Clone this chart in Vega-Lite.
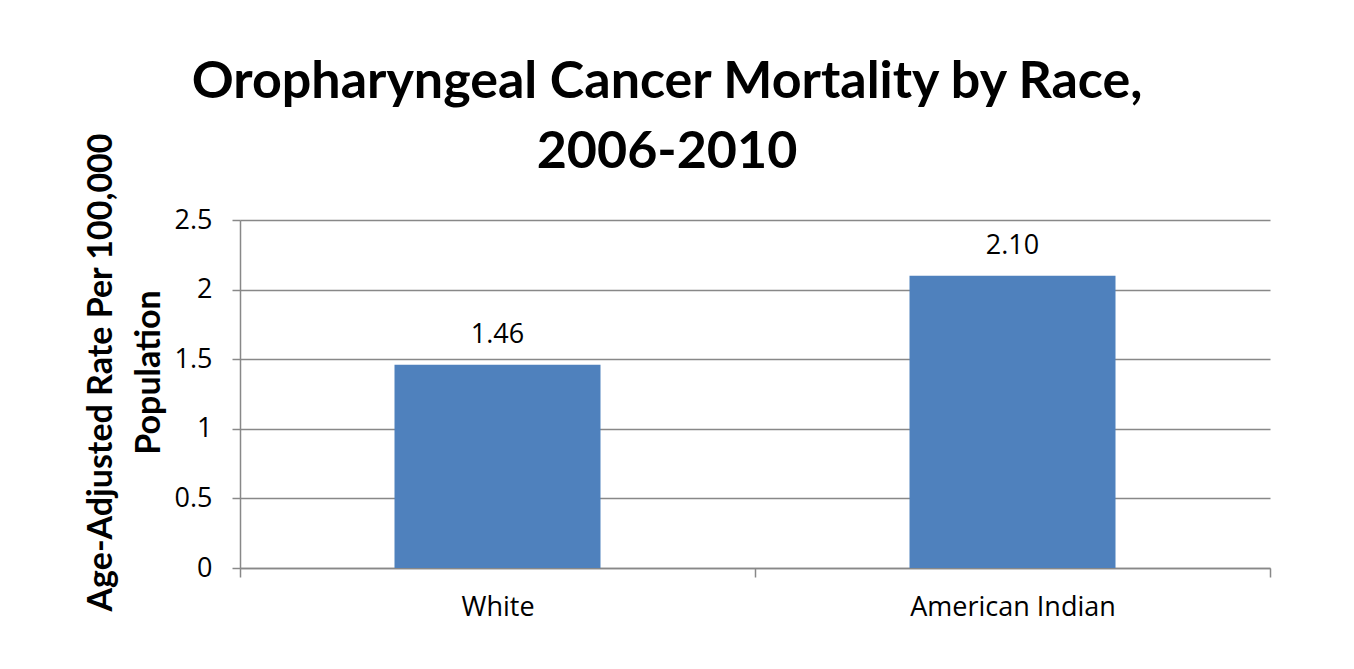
{
  "$schema": "https://vega.github.io/schema/vega-lite/v6.json",
  "autosize": {"type": "none"},
  "width": 1030,
  "height": 348,
  "padding": {"left": 240, "top": 220, "right": 84, "bottom": 101},
  "background": "white",
  "title": {
    "text": ["Oropharyngeal Cancer Mortality by Race,", "2006-2010"],
    "font": "Lato",
    "fontSize": 52,
    "fontWeight": "bold",
    "color": "black",
    "lineHeight": 70,
    "anchor": "middle",
    "dx": -88,
    "offset": -46
  },
  "data": {
    "values": [
      {"race": "White", "rate": 1.46},
      {"race": "American Indian", "rate": 2.10}
    ]
  },
  "config": {
    "view": {"stroke": null},
    "axis": {
      "labelFont": "Open Sans",
      "titleFont": "Lato",
      "labelColor": "black",
      "titleColor": "black",
      "domainColor": "#888888",
      "tickColor": "#888888",
      "gridColor": "#888888",
      "domainWidth": 1.5,
      "tickWidth": 1.5,
      "gridWidth": 1.5,
      "labelLimit": 400
    }
  },
  "encoding": {
    "x": {
      "field": "race",
      "type": "nominal",
      "sort": null,
      "scale": {"paddingInner": 0, "paddingOuter": 0},
      "axis": {
        "title": null,
        "labelAngle": 0,
        "labelFontSize": 27,
        "labelPadding": 17,
        "tickBand": "extent",
        "tickSize": 9,
        "grid": false
      }
    },
    "y": {
      "field": "rate",
      "type": "quantitative",
      "scale": {"domain": [0, 2.5], "nice": false},
      "axis": {
        "values": [0, 0.5, 1, 1.5, 2, 2.5],
        "format": "~g",
        "title": ["Age-Adjusted Rate Per 100,000", "Population"],
        "titleFontSize": 34,
        "titleFontWeight": "bold",
        "titleLineHeight": 48,
        "titleY": 152,
        "titlePadding": 8,
        "labelFontSize": 27,
        "labelPadding": 20,
        "tickSize": 8,
        "grid": true
      }
    }
  },
  "layer": [
    {"mark": {"type": "bar", "color": "#4F81BD", "width": {"band": 0.4}}},
    {
      "mark": {"type": "text", "baseline": "alphabetic", "dy": -22, "font": "Open Sans", "fontSize": 27, "color": "black"},
      "encoding": {"text": {"field": "rate", "type": "quantitative", "format": ".2f"}}
    }
  ]
}
